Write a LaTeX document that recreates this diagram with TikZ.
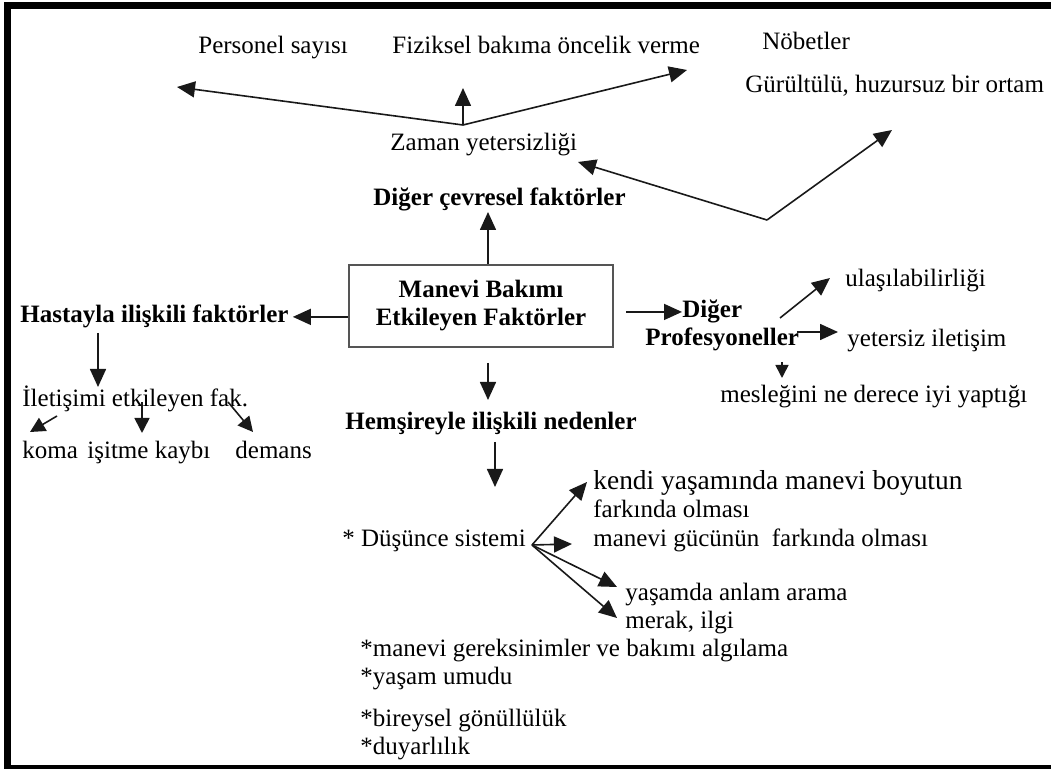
\documentclass[tikz,border=0pt]{standalone}
\usepackage{fontspec}
\setmainfont{Liberation Serif}
\usetikzlibrary{arrows.meta}
\definecolor{boxDraw}{RGB}{85,85,85}
\definecolor{arrowDraw}{RGB}{25,25,25}

\begin{document}
\begin{tikzpicture}[
  x=0.5pt, y=-0.5pt,
  font=\fontsize{12.5}{14}\selectfont,
  item/.style={anchor=base west, inner sep=0pt},
  heading/.style={item, font=\fontsize{12.5}{14}\selectfont\bfseries},
  bigitem/.style={item, font=\fontsize{13.7}{15}\selectfont},
  mainbox/.style={draw=boxDraw, line width=1pt, minimum width=132pt, minimum height=41pt,
    inner sep=0pt, align=center, font=\fontsize{12.5}{14}\selectfont\bfseries},
  arrow/.style={line width=0.8pt, draw=arrowDraw, -{Triangle[length=9pt, width=8pt]}},
  midarrow/.style={arrow, -{Triangle[length=7.5pt, width=7.5pt]}},
  smallarrow/.style={arrow, -{Triangle[length=6.5pt, width=6.5pt]}},
  frame/.style={line width=3.5pt, line join=miter}
]
\useasboundingbox (0,0) rectangle (1051,769);

% Outer frame, open on the right.
\draw[frame] (1051,5.5) -- (7.5,5.5) -- (7.5,768.5) -- (1051,768.5);

% Central box.
\node[mainbox] (mbox) at (481,306) {Manevi Bakımı\\Etkileyen Faktörler};

% Environmental factors.
\node[heading] (cev) at (373,206) {Diğer çevresel faktörler};
\node[item] (zaman) at (390,151) {Zaman yetersizliği};
\node[item] (pers) at (198,54) {Personel sayısı};
\node[item] (fiz) at (392,54) {Fiziksel bakıma öncelik verme};
\node[item] (nob) at (762,50) {Nöbetler};
\node[item] (gur) at (745,93) {Gürültülü, huzursuz bir ortam};

\coordinate (zt) at (463,125);
\coordinate (persTip) at (177,87);
\coordinate (fizTip) at (463,88);
\coordinate (nobTip) at (687,70);
\coordinate (vee) at (767,220);
\coordinate (zamTip) at (578,162);
\coordinate (gurTip) at (892,130);
\coordinate (cevTip) at (488,212);

\draw[arrow] (mbox.north -| cevTip) -- (cevTip);
\draw[arrow] (zt) -- (persTip);
\draw[arrow] (zt) -- (fizTip);
\draw[arrow] (zt) -- (nobTip);
\draw[arrow] (vee) -- (zamTip);
\draw[arrow] (vee) -- (gurTip);

% Patient related factors.
\node[heading] (hasta) at (20,323) {Hastayla ilişkili faktörler};
\node[item] (ilet) at (22,407) {İletişimi etkileyen fak.};
\node[item] (koma) at (22,459) {koma};
\node[item] (isit) at (87,459) {işitme kaybı};
\node[item] (dem) at (235,459) {demans};

\coordinate (iletTip) at (98,387);
\coordinate (komaTail) at (57,416);
\coordinate (komaTip) at (30,432);
\coordinate (isitTail) at (142,402);
\coordinate (isitTip) at (142,433);
\coordinate (demTail) at (228,402);
\coordinate (demTip) at (253,432);

\draw[arrow, shorten >=2pt] (mbox.west |- hasta.east) -- (hasta.east);
\draw[arrow, shorten <=2pt] (hasta.south -| iletTip) -- (iletTip);
\draw[midarrow] (komaTail) -- (komaTip);
\draw[midarrow] (isitTail) -- (isitTip);
\draw[midarrow] (demTail) -- (demTip);

% Other professionals.
\node[heading] (dig) at (682,318) {Diğer};
\node[heading] (pro) at (645,346) {Profesyoneller};
\node[item] (ula) at (845,287) {ulaşılabilirliği};
\node[item] (yet) at (847,347) {yetersiz iletişim};
\node[item] (mes) at (720,403) {mesleğini ne derece iyi yaptığı};

\coordinate (ulaTail) at (780,318);
\coordinate (ulaTip) at (830,278);
\coordinate (yetTail) at (797,332);
\coordinate (yetTip) at (838,332);
\coordinate (mesTail) at (782,362);
\coordinate (mesTip) at (782,378);

\draw[arrow, shorten <=6pt] (mbox.east |- dig.west) -- (dig.west);
\draw[arrow] (ulaTail) -- (ulaTip);
\draw[arrow] (yetTail) -- (yetTip);
\draw[smallarrow] (mesTail) -- (mesTip);

% Nurse related reasons.
\node[heading] (hem) at (345,430) {Hemşireyle ilişkili nedenler};
\node[item] (dus) at (342,547) {* Düşünce sistemi};
\node[bigitem] (kendi) at (593,490) {kendi yaşamında manevi boyutun};
\node[item] (fark) at (593,518) {farkında olması};
\node[item] (guc) at (593,547) {manevi gücünün\ \ farkında olması};
\node[item] (anlam) at (625,601) {yaşamda anlam arama};
\node[item] (merak) at (625,629) {merak, ilgi};
\node[item] (algi) at (360,657) {*manevi gereksinimler ve bakımı algılama};
\node[item] (umut) at (360,685) {*yaşam umudu};
\node[item] (gonul) at (360,727) {*bireysel gönüllülük};
\node[item] (duyar) at (360,755) {*duyarlılık};

\coordinate (hemTip) at (488,400);
\coordinate (dusTip) at (495,487);
\coordinate (fan) at (532,545);
\coordinate (kendiTip) at (587,482);
\coordinate (gucTip) at (572,544);
\coordinate (anlamTip) at (617,587);
\coordinate (merakTip) at (617,618);

\draw[arrow, shorten <=7.5pt] (mbox.south -| hemTip) -- (hemTip);
\draw[arrow, shorten <=3pt] (hem.south -| dusTip) -- (dusTip);
\draw[arrow] (fan) -- (kendiTip);
\draw[arrow] (fan) -- (gucTip);
\draw[arrow] (fan) -- (anlamTip);
\draw[arrow] (fan) -- (merakTip);

\end{tikzpicture}
\end{document}
